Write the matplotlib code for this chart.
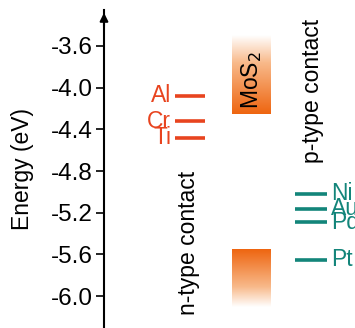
import matplotlib

matplotlib.use("Agg")
import matplotlib.pyplot as plt
import numpy as np
from matplotlib.colors import LinearSegmentedColormap

plt.rcParams.update({"font.family": "Liberation Sans", "font.size": 16.5})

# work functions (eV, negative = below vacuum)
n_metals = ["Al", "Cr", "Ti"]
n_energy = [-4.08, -4.32, -4.48]
p_metals = ["Ni", "Au", "Pd", "Pt"]
p_energy = [-5.02, -5.16, -5.29, -5.65]

# MoS2 band edges
cb_edge = -4.25
cb_top = -3.50
vb_edge = -5.55
vb_bottom = -6.10

yticks = [-3.6, -4.0, -4.4, -4.8, -5.2, -5.6, -6.0]

RED = "#E8441F"
ORANGE = "#EE6510"
TEAL = "#13857A"

fig = plt.figure(figsize=(3.55, 3.28), dpi=100)
ax = fig.add_axes([104 / 355, 0, 251 / 355, 1 - 10 / 328])
ax.set_xlim(104, 355)
ax.set_ylim(-6.306, -3.255)

# MoS2 bands as gradients (dark at the band edge, fading away from the gap)
cmap = LinearSegmentedColormap.from_list(
    "mos2", [(0, "white"), (0.35, "#F8B98A"), (1, ORANGE)])
grad = np.linspace(0, 1, 256).reshape(-1, 1)
ax.imshow(grad, extent=(232, 271, cb_edge, cb_top), origin="upper",
          cmap=cmap, aspect="auto", zorder=1)
ax.imshow(grad, extent=(232, 271, vb_bottom, vb_edge), origin="lower",
          cmap=cmap, aspect="auto", zorder=1)
ax.text(252, -3.93, r"MoS$_2$", rotation=90, ha="center", va="center",
        fontsize=16.5, zorder=2)

for name, e in zip(n_metals, n_energy):
    ax.plot([175, 205], [e, e], color=RED, lw=2.6, solid_capstyle="butt")
    ax.text(171, e, name, color=RED, ha="right", va="center", fontsize=16.5)

for name, e in zip(p_metals, p_energy):
    ax.plot([295, 327], [e, e], color=TEAL, lw=2.6, solid_capstyle="butt")
    ax.text(331, e, name, color=TEAL, ha="left", va="center", fontsize=16.5,
            clip_on=False)

ax.text(189, -5.49, "n-type contact", rotation=90, ha="center", va="center",
        fontsize=16.5)
ax.text(312, -4.03, "p-type contact", rotation=90, ha="center", va="center",
        fontsize=16.5)

ax.set_yticks(yticks, [f"{t:.1f}" for t in yticks])
ax.set_xticks([])
ax.tick_params(axis="y", direction="out", length=6, width=1.2, pad=2,
               labelsize=17.5)
ax.set_ylabel("Energy (eV)", fontsize=16.5, labelpad=12)
ax.spines[["top", "right", "bottom"]].set_visible(False)
ax.spines["left"].set_linewidth(1.5)
ax.annotate("", xy=(0, 1.0), xytext=(0, 0.94), xycoords="axes fraction",
            arrowprops=dict(arrowstyle="-|>", color="black", lw=1.5,
                            mutation_scale=12))

fig.savefig("out.png", dpi=100)
